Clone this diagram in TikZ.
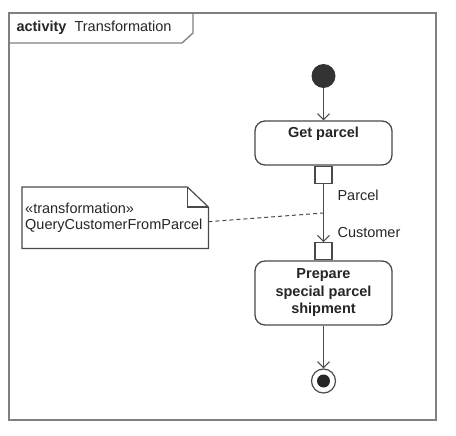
\documentclass[tikz,border=0pt]{standalone}
\usepackage{fontspec}
\setmainfont{Liberation Sans}
\usetikzlibrary{arrows.meta,positioning}

\definecolor{umlline}{HTML}{4A4A4A}
\definecolor{umlframe}{HTML}{808080}

\tikzset{
  action/.style={draw=umlline,line width=1.3pt,rounded corners=10pt,
    minimum width=137pt,font={\fontsize{14.5}{17.5}\selectfont\bfseries},align=center,fill=white},
  pinbox/.style={draw=umlline,line width=1.2pt,fill=white,minimum size=17pt,inner sep=0pt},
  flow/.style={draw=umlline,line width=1pt,-{Straight Barb[length=6pt,width=12pt]}},
  notebox/.style={text width=180pt,inner xsep=3pt,minimum height=61pt,align=left}
}

\begin{document}
\begin{tikzpicture}[x=1pt,y=-1pt,font=\fontsize{14.5}{16.5}\selectfont,text=black!85]
  \useasboundingbox (0,0) rectangle (456,436);

  % Frame
  \draw[umlframe,line width=2pt] (9,13) rectangle (436,420);
  \draw[umlframe,line width=1.3pt] (9,43) -- (182,43) -- (193,33) -- (193,13);
  \node[anchor=west] (title) at (13,28) {\textbf{activity}\ \ Transformation};

  % Nodes
  \node[circle,fill=black!80,minimum size=24pt,inner sep=0pt] (start) at (323.5,76) {};
  \node[action,minimum height=44pt,text height=10pt,text depth=20pt,inner ysep=7pt]
    (get) at (323.5,143) {Get parcel};
  \node[pinbox,anchor=north] (outpin) at (get.south) {};
  \node[action,minimum height=64pt] (prep) at (323.5,293)
    {Prepare\\special parcel\\shipment};
  \node[pinbox,anchor=south] (inpin) at (prep.north) {};
  \node[circle,draw=umlline,line width=1.2pt,minimum size=24pt,inner sep=0pt] (end) at (323.5,381) {};
  \node[circle,fill=black!85,minimum size=13pt,inner sep=0pt] (endin) at (end) {};

  % Pin labels
  \node[anchor=west] (parcel) at (334,195) {Parcel};
  \node[anchor=west] (customer) at (334,233) {Customer};

  % Flows
  \draw[flow] (start) -- (get);
  \draw[flow] (outpin) -- (inpin);
  \draw[flow] (prep) -- (end);

  % Transformation note
  \node[notebox,anchor=north west] (note) at (22,187)
    {«transformation»\\QueryCustomerFromParcel};
  \draw[umlline,line width=1.2pt] (note.north west) -- ([xshift=-21pt]note.north east)
    -- ([yshift=-20pt]note.north east) -- (note.south east) -- (note.south west) -- cycle;
  \draw[umlline,line width=1.2pt] ([xshift=-21pt]note.north east) |- ([yshift=-20pt]note.north east);
  \coordinate (tie) at (323.5,213);
  \draw[umlline,line width=1pt,dash pattern=on 4pt off 3pt] ([yshift=-4pt]note.east) -- (tie);
\end{tikzpicture}
\end{document}
